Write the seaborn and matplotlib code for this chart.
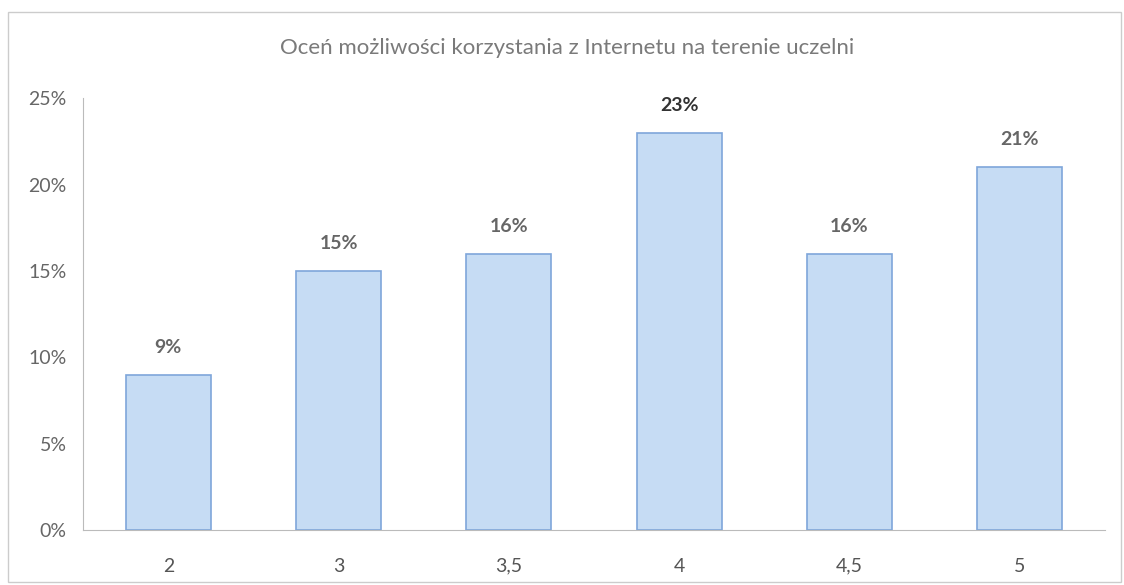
import seaborn as sb
import numpy as np
import pandas as pd
import matplotlib.pyplot as plt
from matplotlib.patches import Rectangle

# oceny i odsetki odpowiedzi
categories = ["2", "3", "3,5", "4", "4,5", "5"]
values = [9, 15, 16, 23, 16, 21]
yticks = [0, 5, 10, 15, 20, 25]
title = "Oceń możliwości korzystania z Internetu na terenie uczelni"

sb.set_style("white")
plt.rcParams['font.family'] = ['Lato', 'DejaVu Sans']

df = pd.DataFrame({"ocena": categories, "procent": values})

fig = plt.figure(figsize=(11.24, 5.85), dpi=100)
ax = fig.add_axes([0.074, 0.094, 0.909, 0.738])

sb.barplot(data=df, x="ocena", y="procent", ax=ax, width=0.5,
           color="#c6dcf4", edgecolor="#7fa6da", linewidth=1.2, saturation=1)

# etykiety nad słupkami
for i, v in enumerate(values):
    col = "#333333" if v == max(values) else "#666666"
    ax.text(i, v + 1.1, f"{v}%", ha="center", va="bottom",
            fontsize=14, fontweight="bold", color=col)

ax.set_ylim(0, 25)
ax.set_xlim(-0.5, len(categories) - 0.5)
ax.set_yticks(yticks)
ax.set_yticklabels([f"{t}%" for t in yticks], fontsize=14, color="#666666")
ax.set_xticklabels(categories, fontsize=14, color="#555555")
ax.set_xlabel("")
ax.set_ylabel("")

for s in ["top", "right"]:
    ax.spines[s].set_visible(False)
ax.spines["left"].set_color("#bbbbbb")
ax.spines["bottom"].set_color("#bbbbbb")
ax.tick_params(axis="y", length=4, color="#bbbbbb", pad=8)
ax.tick_params(axis="x", length=0, pad=20)
# kreski między kategoriami
ax.set_xticks(np.arange(len(categories) - 1) + 0.5, minor=True)
ax.tick_params(axis="x", which="minor", length=4, color="#bbbbbb")

fig.text(0.505, 0.918, title, ha="center", va="center",
         fontsize=16, color="#7a7a7a")

# ramka wykresu
fig.patches.append(Rectangle((0.007, 0.005), 0.99, 0.975, transform=fig.transFigure,
                             fill=False, edgecolor="#cccccc", linewidth=1))

fig.savefig("out.png", dpi=100)
